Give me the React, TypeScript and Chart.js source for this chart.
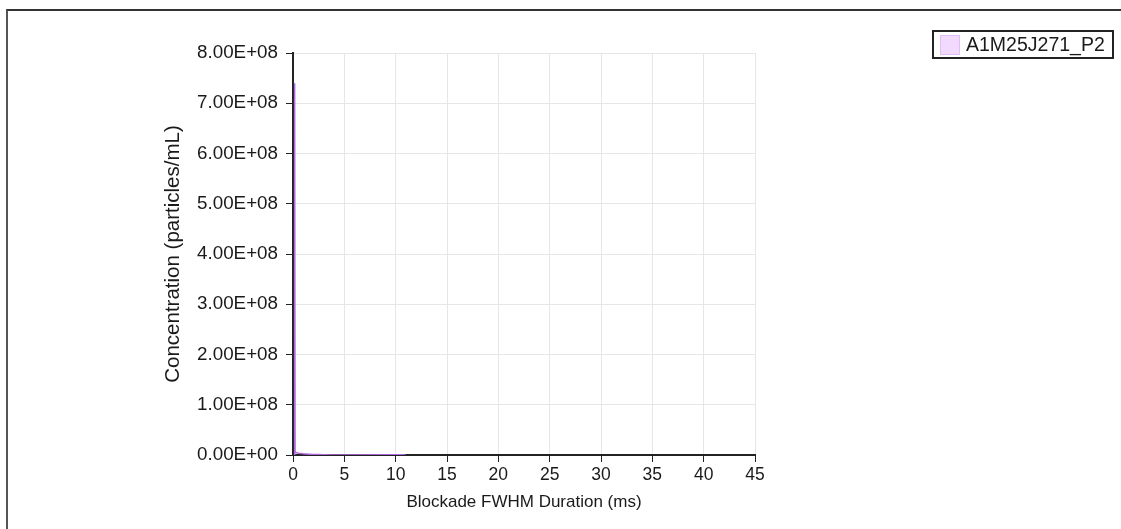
import React, { useEffect, useRef } from "react";
import { Chart, registerables } from "chart.js";

Chart.register(...registerables);

const seriesLabel = "A1M25J271_P2";
const durations = [0.1, 0.15, 0.17, 0.2, 0.3, 0.45, 0.6, 0.8, 1.0, 1.3, 1.6, 2.0, 2.5, 3.0, 4.0, 10.5, 11.0];
const concentrations = [0, 3.0e8, 7.4e8, 6.0e6, 5.0e6, 4.0e6, 3.5e6, 3.0e6, 2.5e6, 2.0e6, 1.5e6, 1.0e6, 8.0e5, 5.0e5, 2.0e5, 3.0e5, 0];
const xTicks = [0, 5, 10, 15, 20, 25, 30, 35, 40, 45];
const yTicks = [0, 1e8, 2e8, 3e8, 4e8, 5e8, 6e8, 7e8, 8e8];

const FONT = "'Liberation Sans', Arial, sans-serif";

function fmtSci(v: number): string {
  if (v === 0) return "0.00E+00";
  const exp = Math.floor(Math.log10(Math.abs(v)));
  const mant = v / Math.pow(10, exp);
  const sign = exp < 0 ? "-" : "+";
  const e = String(Math.abs(exp)).padStart(2, "0");
  return mant.toFixed(2) + "E" + sign + e;
}

const legendPlugin = {
  id: "boxLegend",
  afterDraw(chart: any) {
    const ctx = chart.ctx;
    const ds = chart.data.datasets[0];
    ctx.save();
    ctx.fillStyle = "#ffffff";
    ctx.fillRect(933, 31, 180, 27);
    ctx.lineWidth = 2;
    ctx.strokeStyle = "#222222";
    ctx.strokeRect(933, 31, 180, 27);
    ctx.fillStyle = ds.backgroundColor;
    ctx.fillRect(940, 35, 20, 20);
    ctx.lineWidth = 1;
    ctx.strokeStyle = "#e2bdf7";
    ctx.strokeRect(940.5, 35.5, 19, 19);
    ctx.fillStyle = "#1a1a1a";
    ctx.font = "19.5px " + FONT;
    ctx.textBaseline = "middle";
    ctx.textAlign = "left";
    ctx.fillText(ds.label, 966, 45.5);
    ctx.restore();
  },
};

export default function App() {
  const ref = useRef<HTMLCanvasElement | null>(null);

  useEffect(() => {
    document.body.style.margin = "0";
    if (!ref.current) return;
    const chart = new Chart(ref.current, {
      type: "scatter",
      data: {
        datasets: [
          {
            label: seriesLabel,
            data: durations.map((d, i) => ({ x: d, y: concentrations[i] })),
            showLine: true,
            borderColor: "rgb(175,105,225)",
            backgroundColor: "#f1dafd",
            borderWidth: 1.5,
            pointRadius: 0,
            tension: 0,
          },
        ],
      },
      options: {
        responsive: false,
        animation: false,
        layout: { padding: { top: 53, right: 366, left: 0, bottom: 0 } },
        plugins: {
          legend: { display: false },
          tooltip: { enabled: false },
        },
        scales: {
          x: {
            type: "linear",
            min: 0,
            max: 45,
            afterBuildTicks: (s: any) => {
              s.ticks = xTicks.map((v) => ({ value: v }));
            },
            afterFit: (s: any) => {
              s.height = 74;
            },
            ticks: {
              color: "#1a1a1a",
              font: { family: FONT, size: 17.5 },
              padding: 3,
              maxRotation: 0,
              autoSkip: false,
            },
            grid: { color: "#e6e6e6", tickColor: "#222222", tickLength: 7, lineWidth: 1 },
            border: { color: "#222222", width: 2 },
            title: {
              display: true,
              text: "Blockade FWHM Duration (ms)",
              color: "#1a1a1a",
              font: { family: FONT, size: 17 },
              padding: { top: 0, bottom: 16 },
            },
          },
          y: {
            type: "linear",
            min: 0,
            max: 8e8,
            afterBuildTicks: (s: any) => {
              s.ticks = yTicks.map((v) => ({ value: v }));
            },
            afterFit: (s: any) => {
              s.width = 293;
            },
            ticks: {
              color: "#1a1a1a",
              font: { family: FONT, size: 18.8 },
              padding: 8,
              autoSkip: false,
              callback: (v: any) => fmtSci(Number(v)),
            },
            grid: { color: "#e6e6e6", tickColor: "#222222", tickLength: 7, lineWidth: 1 },
            border: { color: "#222222", width: 2 },
            title: {
              display: true,
              text: "Concentration (particles/mL)",
              color: "#1a1a1a",
              font: { family: FONT, size: 20.5 },
              padding: { top: 161, bottom: 0 },
            },
          },
        },
      },
      plugins: [legendPlugin],
    });
    return () => chart.destroy();
  }, []);

  return (
    <div style={{ position: "relative", width: 1121, height: 529, overflow: "hidden", background: "#fff" }}>
      <canvas ref={ref} width={1121} height={529} style={{ position: "absolute", left: 0, top: 0 }} />
      <div
        style={{
          position: "absolute",
          left: 6,
          top: 9,
          width: 1200,
          height: 600,
          borderTop: "2px solid #333",
          borderLeft: "2px solid #555",
          pointerEvents: "none",
        }}
      />
    </div>
  );
}
